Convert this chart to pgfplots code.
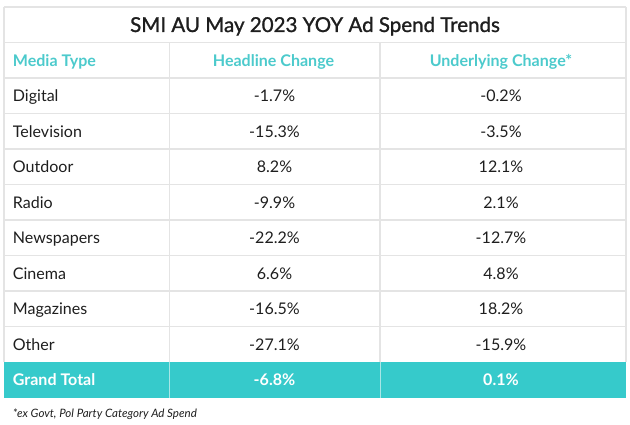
\documentclass[border=0pt]{standalone}
\usepackage{fontspec}
\setmainfont{Lato}
\usepackage{pgfplots}
\usepackage{pgfplotstable}
\pgfplotsset{compat=1.18}
\definecolor{tealfill}{HTML}{36CACB}
\definecolor{tealtext}{HTML}{4CCACC}
\definecolor{gridc}{HTML}{E4E4E4}
\definecolor{txt}{HTML}{1E1E1E}
\definecolor{tealdiv}{HTML}{A8E6E6}

\pgfplotstableread{
idx name head under
0 Digital -1.7 -0.2
1 Television -15.3 -3.5
2 Outdoor 8.2 12.1
3 Radio -9.9 2.1
4 Newspapers -22.2 -12.7
5 Cinema 6.6 4.8
6 Magazines -16.5 18.2
7 Other -27.1 -15.9
}\rows
\pgfplotstableread{
idx name head under
8 {Grand Total} -6.8 0.1
}\total

\newcommand{\pct}{\pgfmathprintnumber[fixed,fixed zerofill,precision=1,assume math mode=true]{\pgfplotspointmeta}\%}
\newcommand{\bodyfont}{\fontsize{16.1}{19}\selectfont}

\begin{document}
\begin{tikzpicture}
\useasboundingbox (0,0) rectangle (630bp,425bp);
\begin{axis}[at={(0,0)}, anchor=south west, scale only axis,
  width=630bp, height=425bp, xmin=0, xmax=630, ymin=0, ymax=425,
  y dir=reverse, hide axis, clip=false]

% grid lines
\addplot[gridc, line width=1.1bp, unbounded coords=jump, mark=none] coordinates {
 (4,7) (626,7) (0,nan)
 (4,42.5) (626,42.5) (0,nan)
 (4,78) (626,78) (0,nan)
 (4,113.5) (626,113.5) (0,nan)
 (4,149) (626,149) (0,nan)
 (4,184.5) (626,184.5) (0,nan)
 (4,220) (626,220) (0,nan)
 (4,255.5) (626,255.5) (0,nan)
 (4,291) (626,291) (0,nan)
 (4,326.5) (626,326.5) (0,nan)
 (4,7) (4,362) (0,nan)
 (626,7) (626,362) (0,nan)
 (169.5,42.5) (169.5,362) (0,nan)
 (380,42.5) (380,362)
};
% grand total band
\addplot[fill=tealfill, draw=none, mark=none] coordinates {(4,362) (626,362) (626,397.5) (4,397.5)} -- cycle;
\addplot[tealdiv, line width=0.8bp, unbounded coords=jump, mark=none] coordinates {
 (169.5,362) (169.5,397.5) (0,nan) (380,362) (380,397.5)};

% row labels
\addplot[draw=none, mark=none, point meta=explicit symbolic, nodes near coords,
  nodes near coords style={anchor=base west, inner sep=0pt, font=\bodyfont, text=txt}]
  table[x expr=12.7, y expr=7+35.5*(\thisrow{idx}+2.5)+6, meta=name] {\rows};
\addplot[draw=none, mark=none, point meta=\thisrow{head}, nodes near coords={\pct},
  nodes near coords style={anchor=base, inner sep=0pt, font=\bodyfont, text=txt}]
  table[x expr=274.5, y expr=7+35.5*(\thisrow{idx}+2.5)+6] {\rows};
\addplot[draw=none, mark=none, point meta=\thisrow{under}, nodes near coords={\pct},
  nodes near coords style={anchor=base, inner sep=0pt, font=\bodyfont, text=txt}]
  table[x expr=501, y expr=7+35.5*(\thisrow{idx}+2.5)+6] {\rows};

% grand total
\addplot[draw=none, mark=none, point meta=explicit symbolic, nodes near coords,
  nodes near coords style={anchor=base west, inner sep=0pt, font=\bodyfont\bfseries, text=white}]
  table[x expr=12.7, y expr=7+35.5*(\thisrow{idx}+2.5)+6, meta=name] {\total};
\addplot[draw=none, mark=none, point meta=\thisrow{head}, nodes near coords={\pct},
  nodes near coords style={anchor=base, inner sep=0pt, font=\bodyfont\bfseries, text=white}]
  table[x expr=274.5, y expr=7+35.5*(\thisrow{idx}+2.5)+6] {\total};
\addplot[draw=none, mark=none, point meta=\thisrow{under}, nodes near coords={\pct},
  nodes near coords style={anchor=base, inner sep=0pt, font=\bodyfont\bfseries, text=white}]
  table[x expr=501, y expr=7+35.5*(\thisrow{idx}+2.5)+6] {\total};

% headers
\node[anchor=base west, inner sep=0pt, font=\bodyfont\bfseries, text=tealtext] at (axis cs:12.7,66.3) {Media Type};
\node[anchor=base, inner sep=0pt, font=\bodyfont\bfseries, text=tealtext] at (axis cs:273.5,66.3) {Headline Change};
\node[anchor=base, inner sep=0pt, font=\bodyfont\bfseries, text=tealtext] at (axis cs:501,66.3) {Underlying Change*};
% title
\node[anchor=base, inner sep=0pt, font=\fontsize{20.6}{24}\selectfont\addfontfeatures{FakeBold=1.2}, text=txt] at (axis cs:315,32) {SMI AU May 2023 YOY Ad Spend Trends};
% footnote
\node[anchor=base west, inner sep=0pt, font=\fontsize{11.6}{14}\selectfont\itshape, text=txt] at (axis cs:12.7,417) {*ex Govt, Pol Party Category Ad Spend};
\end{axis}
\end{tikzpicture}
\end{document}
